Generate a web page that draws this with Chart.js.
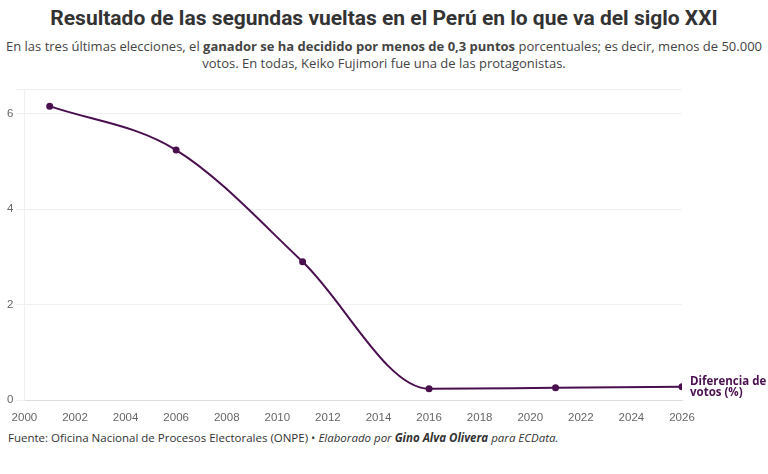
<!DOCTYPE html>
<html><head><meta charset="utf-8">
<script src="https://cdn.jsdelivr.net/npm/chart.js@4"></script>
<style>
body{margin:0;width:768px;height:474px;background:#fff;font-family:"Open Sans",sans-serif;position:relative;overflow:hidden}
#t{position:absolute;top:6px;left:0;width:768px;text-align:center;font-family:Roboto,"Noto Sans",sans-serif;font-weight:700;font-size:21px;color:#333}
#s{position:absolute;top:38px;left:4px;width:760px;text-align:center;font-size:13px;line-height:17px;color:#444}
#f{position:absolute;top:430px;left:8px;font-size:11.5px;color:#333}
#c{position:absolute;top:80px;left:0;width:768px;height:348px}
</style></head><body>
<div id="t">Resultado de las segundas vueltas en el Perú en lo que va del siglo XXI</div>
<div id="s">En las tres últimas elecciones, el <b>ganador se ha decidido por menos de 0,3 puntos</b> porcentuales; es decir, menos de 50.000 votos. En todas, Keiko Fujimori fue una de las protagonistas.</div>
<div id="c"><canvas id="cv"></canvas></div>
<div id="f">Fuente: Oficina Nacional de Procesos Electorales (ONPE) • <i>Elaborado por <b>Gino Alva Olivera</b> para ECData.</i></div>
<script>
const years=[2001,2006,2011,2016,2021,2026];
const diff=[6.16,5.24,2.9,0.24,0.26,0.28];
const seriesLabel=["Diferencia de","votos (%)"];
const color="#4a0f4f";
const lbl={id:'lbl',afterDatasetsDraw(ch){const m=ch.getDatasetMeta(0).data;const p=m[m.length-1];const c=ch.ctx;c.save();c.fillStyle=color;c.font="bold 11.5px 'Open Sans'";c.textBaseline='middle';c.fillText(seriesLabel[0],p.x+8,p.y-5);c.fillText(seriesLabel[1],p.x+8,p.y+6);c.restore();}};
new Chart(document.getElementById('cv'),{type:'line',
data:{datasets:[{data:years.map((y,i)=>({x:y,y:diff[i]})),borderColor:color,backgroundColor:color,borderWidth:2,pointRadius:2.5,cubicInterpolationMode:'monotone'}]},
options:{responsive:true,maintainAspectRatio:false,animation:false,
layout:{padding:{right:86,left:4,top:0}},
plugins:{legend:{display:false},tooltip:{enabled:false}},
scales:{x:{type:'linear',min:2000,max:2026,ticks:{stepSize:2,color:'#666',font:{size:11.5},callback:v=>String(v)},grid:{display:false},border:{color:'#ddd'}},
y:{min:0,max:6.5,ticks:{stepSize:2,color:'#666',font:{size:11.5},callback:v=>v%2===0?v:''},grid:{color:'#f0f0f0'},border:{color:'#f0f0f0'}}}},
plugins:[lbl]});
</script></body></html>
